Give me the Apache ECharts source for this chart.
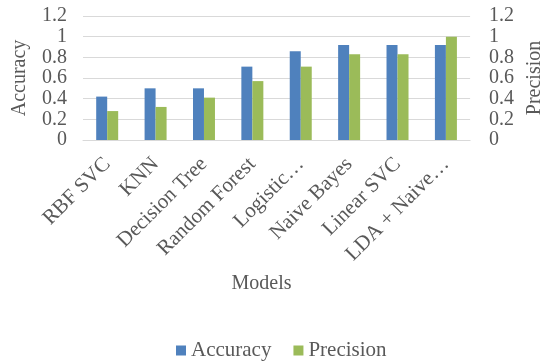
<!DOCTYPE html>
<html>
<head>
<meta charset="utf-8">
<script src="https://cdn.jsdelivr.net/npm/echarts@6/dist/echarts.min.js"></script>
<style>
  html, body { margin: 0; padding: 0; background: #fff; }
  #chart { width: 553px; height: 364px; }
</style>
</head>
<body>
<div id="chart"></div>
<script>
// Model comparison: accuracy (left axis) vs precision (right axis)
const models = ['RBF SVC', 'KNN', 'Decision Tree', 'Random Forest', 'Logistic\u2026', 'Naive Bayes', 'Linear SVC', 'LDA + Naive\u2026'];
const accuracy = [0.42, 0.50, 0.50, 0.71, 0.86, 0.92, 0.92, 0.92];
const precision = [0.28, 0.32, 0.41, 0.57, 0.71, 0.83, 0.83, 1.00];
const yTicks = { min: 0, max: 1.2, interval: 0.2 };

const FONT = '"Liberation Serif", "Times New Roman", serif';
const TEXT = '#595959';
const GRID = '#D9D9D9';

const chart = echarts.init(document.getElementById('chart'), null, { renderer: 'canvas' });

function valueAxis(name, position) {
  return {
    type: 'value',
    position: position,
    min: yTicks.min,
    max: yTicks.max,
    interval: yTicks.interval,
    name: name,
    nameLocation: 'middle',
    nameGap: position === 'left' ? 53 : 52,
    nameRotate: 90,
    nameTextStyle: { fontFamily: FONT, fontSize: 20, color: TEXT },
    axisLine: { show: false },
    axisTick: { show: false },
    axisLabel: {
      fontFamily: FONT, fontSize: 20, color: TEXT,
      margin: position === 'left' ? 16 : 19,
      formatter: v => String(Math.round(v * 10) / 10)
    },
    splitLine: { show: position === 'left', lineStyle: { color: GRID, width: 1 } }
  };
}

chart.setOption({
  animation: false,
  textStyle: { fontFamily: FONT },
  grid: { left: 83, right: 81, top: 16, bottom: 224 },
  xAxis: {
    type: 'category',
    data: models,
    name: 'Models',
    nameLocation: 'middle',
    nameGap: 134,
    nameTextStyle: { fontFamily: FONT, fontSize: 20, color: TEXT, padding: [0, 30, 0, 0] },
    axisLine: { lineStyle: { color: GRID, width: 1 } },
    axisTick: { show: false },
    axisLabel: {
      rotate: 45, interval: 0, margin: 21,
      fontFamily: FONT, fontSize: 21, color: TEXT
    }
  },
  yAxis: [valueAxis('Accuracy', 'left'), valueAxis('Precision', 'right')],
  legend: {
    bottom: -2,
    left: 171,
    itemWidth: 10,
    itemHeight: 10,
    itemGap: 22,
    icon: 'rect',
    textStyle: { fontFamily: FONT, fontSize: 21, color: TEXT },
    data: ['Accuracy', 'Precision']
  },
  series: [
    {
      name: 'Accuracy', type: 'bar', yAxisIndex: 0,
      data: accuracy, barWidth: 11, barGap: '0%',
      itemStyle: { color: '#4F81BD' }
    },
    {
      name: 'Precision', type: 'bar', yAxisIndex: 1,
      data: precision, barWidth: 11, barGap: '0%',
      itemStyle: { color: '#9BBB59' }
    }
  ]
});
</script>
</body>
</html>
